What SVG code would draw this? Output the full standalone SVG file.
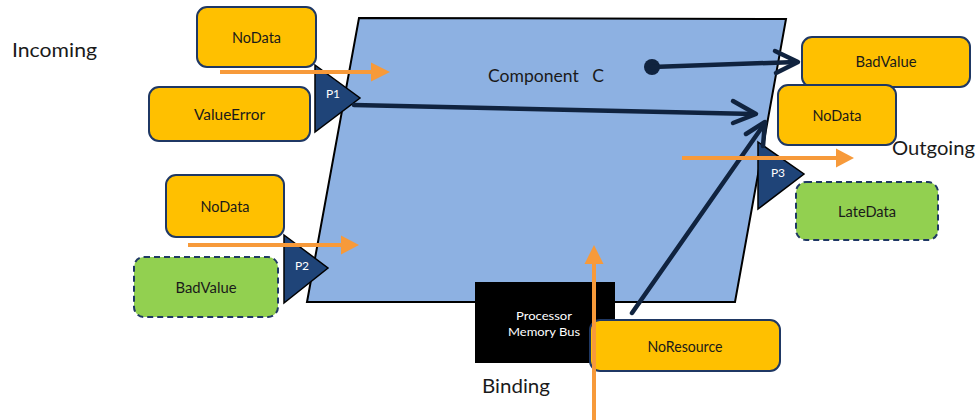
<svg xmlns="http://www.w3.org/2000/svg" width="977" height="420" viewBox="0 0 977 420">
  <defs>
    <style>
      .lbl { font-family: Lato, "Liberation Sans", sans-serif; font-size: 14.5px; fill: #1a1a1a; text-anchor: middle; dominant-baseline: central; }
      .big { font-family: Lato, "Liberation Sans", sans-serif; font-size: 19px; fill: #1a1a1a; }
      .port-txt { font-family: Lato, "Liberation Sans", sans-serif; font-size: 12px; fill: #ffffff; text-anchor: middle; dominant-baseline: central; }
      .bus-txt { font-family: Lato, "Liberation Sans", sans-serif; font-size: 12px; fill: #ffffff; text-anchor: middle; }
      .err { fill: #FFC000; stroke: #1F3864; stroke-width: 2; }
      .rec { fill: #92D050; stroke: #1F3864; stroke-width: 2; stroke-dasharray: 6 4; }
      .port { fill: #1F4478; stroke: #000000; stroke-width: 1.5; stroke-linejoin: miter; }
      .flow { stroke: #F79A3A; stroke-width: 4; fill: none; }
      .flow-head { fill: #F79A3A; }
      .prop { stroke: #10233F; stroke-width: 4.5; fill: none; stroke-linecap: round; stroke-linejoin: round; }
    </style>
  </defs>

  <!-- component body -->
  <g id="component-c">
    <polygon points="359,18 786,19 735,302 307,302" fill="#8DB1E2" stroke="#000000" stroke-width="2"/>
    <text class="big" x="488" y="82" style="font-size:17px; white-space:pre" textLength="116" lengthAdjust="spacingAndGlyphs">Component   C</text>
  </g>

  <!-- ports -->
  <g id="port-p1">
    <polygon class="port" points="315,65 360,98 315,132"/>
    <text class="port-txt" x="333" y="93">P1</text>
  </g>
  <g id="port-p2">
    <polygon class="port" points="284,235 328,268 284,303"/>
    <text class="port-txt" x="302" y="265">P2</text>
  </g>
  <g id="port-p3">
    <polygon class="port" points="758,142 804,174 758,209"/>
    <text class="port-txt" x="778" y="172">P3</text>
  </g>

  <!-- incoming errors -->
  <g id="in-nodata-1">
    <rect class="err" x="197" y="7" width="119" height="60" rx="10"/>
    <text class="lbl" x="256.5" y="37" textLength="49" lengthAdjust="spacingAndGlyphs">NoData</text>
  </g>
  <g id="in-valueerror">
    <rect class="err" x="149" y="87" width="161" height="54" rx="10"/>
    <text class="lbl" x="229.5" y="114" textLength="71" lengthAdjust="spacingAndGlyphs">ValueError</text>
  </g>
  <g id="in-nodata-2">
    <rect class="err" x="166" y="175" width="118" height="62" rx="10"/>
    <text class="lbl" x="225" y="206" textLength="49" lengthAdjust="spacingAndGlyphs">NoData</text>
  </g>
  <g id="in-badvalue">
    <rect class="rec" x="134" y="257" width="144" height="60" rx="10"/>
    <text class="lbl" x="206" y="287" textLength="61" lengthAdjust="spacingAndGlyphs">BadValue</text>
  </g>

  <!-- outgoing errors -->
  <g id="out-badvalue">
    <rect class="err" x="802" y="37" width="168" height="50" rx="10"/>
    <text class="lbl" x="886" y="61" textLength="61" lengthAdjust="spacingAndGlyphs">BadValue</text>
  </g>
  <g id="out-nodata">
    <rect class="err" x="778" y="85" width="118" height="60" rx="10"/>
    <text class="lbl" x="837" y="115" textLength="49" lengthAdjust="spacingAndGlyphs">NoData</text>
  </g>
  <g id="out-latedata">
    <rect class="rec" x="796" y="182" width="142" height="58" rx="10"/>
    <text class="lbl" x="867" y="211" textLength="58" lengthAdjust="spacingAndGlyphs">LateData</text>
  </g>

  <!-- binding -->
  <g id="processor-memory-bus">
    <rect x="475" y="282" width="140" height="81" fill="#000000"/>
    <text class="bus-txt" x="544" y="320" textLength="56" lengthAdjust="spacingAndGlyphs">Processor</text>
    <text class="bus-txt" x="544" y="336" textLength="72" lengthAdjust="spacingAndGlyphs">Memory Bus</text>
  </g>
  <g id="no-resource">
    <rect class="err" x="590" y="320" width="190" height="51" rx="10"/>
    <text class="lbl" x="685" y="346" textLength="75" lengthAdjust="spacingAndGlyphs">NoResource</text>
  </g>

  <!-- section labels -->
  <g id="labels">
    <text class="big" x="12" y="57" textLength="85" lengthAdjust="spacingAndGlyphs">Incoming</text>
    <text class="big" x="892" y="155" textLength="83" lengthAdjust="spacingAndGlyphs">Outgoing</text>
    <text class="big" x="482" y="393" textLength="68" lengthAdjust="spacingAndGlyphs">Binding</text>
  </g>

  <!-- connectors -->
  <g id="connectors">
    <!-- error propagation paths -->
    <line class="prop" x1="354" y1="105" x2="754" y2="114"/>
    <polyline class="prop" points="733,101 756,114 733,123"/>
    <circle cx="652" cy="67" r="8" fill="#10233F"/>
    <line class="prop" x1="652" y1="67" x2="796" y2="62"/>
    <polyline class="prop" points="775,51 798,62 776,73"/>
    <line class="prop" x1="632" y1="313" x2="765" y2="123"/>
    <polyline class="prop" points="746,134 765,122 763,146"/>

    <!-- error flows -->
    <line class="flow" x1="220" y1="72" x2="373" y2="72"/>
    <polygon class="flow-head" points="371,62.5 390,72 371,81.5"/>
    <line class="flow" x1="188" y1="245" x2="343" y2="245"/>
    <polygon class="flow-head" points="341,235.5 359,245 341,254.5"/>
    <line class="flow" x1="682" y1="158" x2="838" y2="158"/>
    <polygon class="flow-head" points="836,148.5 854,158 836,167.5"/>
    <line class="flow" x1="594" y1="420" x2="594" y2="262"/>
    <polygon class="flow-head" points="584.5,264 594,245 603.5,264"/>
  </g>
</svg>
